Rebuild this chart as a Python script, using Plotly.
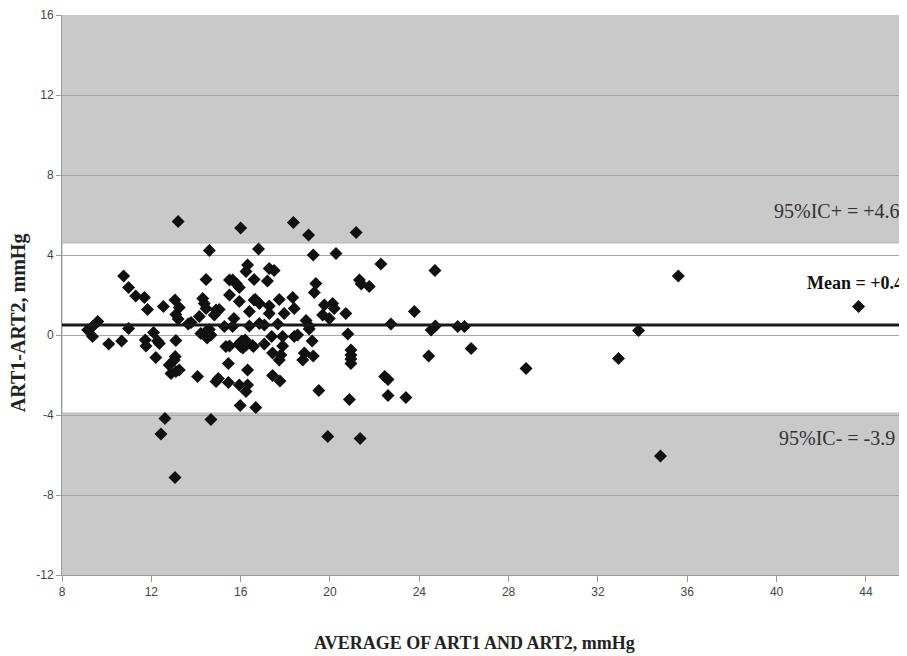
import plotly.graph_objects as go

# Data (Bland-Altman style plot)
avg_values = [
    13.2, 16.0, 14.6, 16.8, 10.76, 10.98, 11.3, 11.69, 11.83, 12.54, 13.06, 13.25, 13.1, 13.2,
    14.45, 14.3, 14.37, 14.45, 14.9, 15.04, 14.82, 14.15, 13.78, 13.65, 15.5, 15.64, 15.8, 15.94,
    15.5, 15.94, 16.31, 16.24, 16.6, 16.6, 15.7, 16.39, 16.39, 15.27, 15.64, 9.37, 9.6, 9.15, 9.37,
    10.09, 10.67, 10.98, 11.73, 11.76, 12.1, 12.28, 12.36, 12.2, 13.1, 13.07, 13.03, 12.8, 12.88,
    13.1, 13.25, 14.07, 14.22, 14.45, 14.6, 14.67, 14.5, 14.9, 15.0, 15.34, 15.5, 15.45, 15.45,
    15.94, 16.0, 16.16, 16.1, 16.31, 15.94, 16.31, 16.24, 15.98, 16.68, 16.57, 12.61, 14.67, 12.43,
    13.06,
    18.36, 19.04, 21.17, 19.25, 20.27, 22.28, 24.7, 17.28, 17.5, 17.2, 19.37, 19.3, 21.32, 21.4,
    21.76, 16.66, 16.84, 17.28, 17.73, 18.33, 18.4, 17.95, 17.28, 19.75, 20.12, 19.67, 19.97, 20.19,
    20.71, 23.78, 16.84, 17.06, 17.66, 18.93, 19.07, 19.07, 22.73, 24.72, 24.53, 16.53, 17.06, 17.39,
    17.88, 17.88, 17.43, 17.8, 17.73, 18.4, 18.55, 19.2, 18.85, 18.78, 19.25, 20.8, 20.94, 20.94,
    20.94, 20.94, 24.42, 17.43, 17.76, 19.5, 22.45, 22.6, 22.6, 23.4, 20.87, 19.9, 21.35,
    35.6, 25.72, 26.02, 26.32, 28.78, 32.92, 33.82, 43.67, 34.8, 16.05, 16.25, 16.2,
]
diff_values = [
    5.67, 5.35, 4.23, 4.3, 2.95, 2.37, 1.95, 1.87, 1.28, 1.43, 1.75, 1.37, 1.03, 0.8,
    2.78, 1.83, 1.58, 1.33, 1.25, 1.28, 1.0, 0.92, 0.63, 0.55, 2.75, 2.75, 2.58, 2.38,
    2.0, 1.67, 3.5, 3.17, 2.78, 1.75, 0.83, 1.17, 0.45, 0.42, 0.42, 0.42, 0.67, 0.25, -0.08,
    -0.45, -0.3, 0.33, -0.25, -0.55, 0.13, -0.3, -0.42, -1.13, -0.28, -1.08, -1.25, -1.5, -1.92,
    -1.83, -1.75, -2.08, 0.08, 0.17, 0.28, 0.0, -0.15, -2.33, -2.17, -0.58, -0.55, -1.42, -2.38,
    -0.42, -0.58, -0.42, -0.65, -1.75, -2.5, -2.5, -2.83, -3.53, -3.62, -0.58, -4.17, -4.22, -4.95,
    -7.12,
    5.62, 5.0, 5.12, 4.0, 4.08, 3.55, 3.22, 3.33, 3.22, 2.7, 2.58, 2.12, 2.75, 2.55,
    2.42, 1.78, 1.58, 1.45, 1.78, 1.88, 1.33, 1.08, 1.08, 1.5, 1.58, 1.0, 0.83, 1.33,
    1.08, 1.17, 0.58, 0.5, 0.55, 0.72, 0.45, 0.3, 0.55, 0.45, 0.25, -0.53, -0.45, -0.08,
    -0.08, -0.55, -0.9, -1.0, -1.25, -0.08, 0.0, -0.3, -0.9, -1.25, -1.05, 0.05, -0.75, -1.0,
    -1.2, -1.42, -1.05, -2.03, -2.3, -2.78, -2.08, -2.22, -3.03, -3.12, -3.22, -5.08, -5.17,
    2.95, 0.42, 0.42, -0.67, -1.67, -1.17, 0.22, 1.43, -6.05, -0.3, -0.5, -0.25,
]

mean_diff = 0.5
upper_loa = 4.6
lower_loa = -3.9
x_ticks = [8, 12, 16, 20, 24, 28, 32, 36, 40, 44]
y_ticks = [-12, -8, -4, 0, 4, 8, 12, 16]

label_upper = "95%IC+ = +4.6"
label_mean = "Mean = +0.4"
label_lower = "95%IC- = -3.9"
x_title = "AVERAGE OF ART1 AND ART2, mmHg"
y_title = "ART1-ART2, mmHg"

fig = go.Figure()
fig.add_trace(go.Scatter(
    x=avg_values, y=diff_values, mode="markers",
    marker=dict(symbol="diamond", size=10, color="#111111"),
    showlegend=False, hoverinfo="x+y",
))

# white band between limits of agreement
fig.add_shape(type="rect", xref="paper", yref="y", x0=0, x1=1, y0=lower_loa, y1=upper_loa,
              fillcolor="white", line=dict(width=1, color="#b4b4b4"), layer="below")
# mean line
fig.add_shape(type="line", xref="paper", yref="y", x0=0, x1=1, y0=mean_diff, y1=mean_diff,
              line=dict(width=3, color="#1a1a1a"), layer="above")

serif = "Liberation Serif, Times New Roman, serif"
fig.add_annotation(xref="paper", yref="y", x=0.9965, y=6.2, text=label_upper, showarrow=False,
                   xanchor="right", yanchor="middle",
                   font=dict(family=serif, size=20, color="#333333"))
fig.add_annotation(xref="paper", yref="y", x=1.0, y=2.6, text="<b>" + label_mean + "</b>",
                   showarrow=False, xanchor="right", yanchor="middle",
                   font=dict(family=serif, size=18, color="#111111"))
fig.add_annotation(xref="paper", yref="y", x=0.9905, y=-5.15, text=label_lower, showarrow=False,
                   xanchor="right", yanchor="middle",
                   font=dict(family=serif, size=20, color="#333333"))

# axis titles
fig.add_annotation(xref="paper", yref="paper", x=0.489, y=-0.121, text="<b>" + x_title + "</b>",
                   showarrow=False, xanchor="center", yanchor="middle",
                   font=dict(family=serif, size=18, color="#222222"))
fig.add_annotation(xref="paper", yref="paper", x=-0.052, y=0.45, text="<b>" + y_title + "</b>",
                   showarrow=False, xanchor="center", yanchor="middle", textangle=-90,
                   font=dict(family=serif, size=20, color="#222222"))

fig.update_layout(
    width=907, height=656,
    margin=dict(l=54, r=10, t=7, b=89, autoexpand=False),
    paper_bgcolor="white", plot_bgcolor="#c9c9c9",
    font=dict(family="Liberation Sans, Arial, sans-serif", size=12, color="#444444"),
)
fig.update_xaxes(
    range=[8, 45.75], tickvals=x_ticks, ticktext=[str(v) for v in x_ticks],
    showgrid=False, zeroline=False, automargin=False,
    showline=True, linecolor="#9a9a9a", linewidth=1,
    ticks="outside", ticklen=6, tickcolor="#9a9a9a",
)
fig.update_yaxes(
    range=[-12, 16], tickvals=y_ticks, ticktext=[str(v) for v in y_ticks],
    showgrid=True, gridcolor="#a6a6a6", gridwidth=1, zeroline=False, automargin=False,
    showline=True, linecolor="#9a9a9a", linewidth=1,
    ticks="outside", ticklen=5, tickcolor="#9a9a9a",
)

fig.write_html("out.html")
